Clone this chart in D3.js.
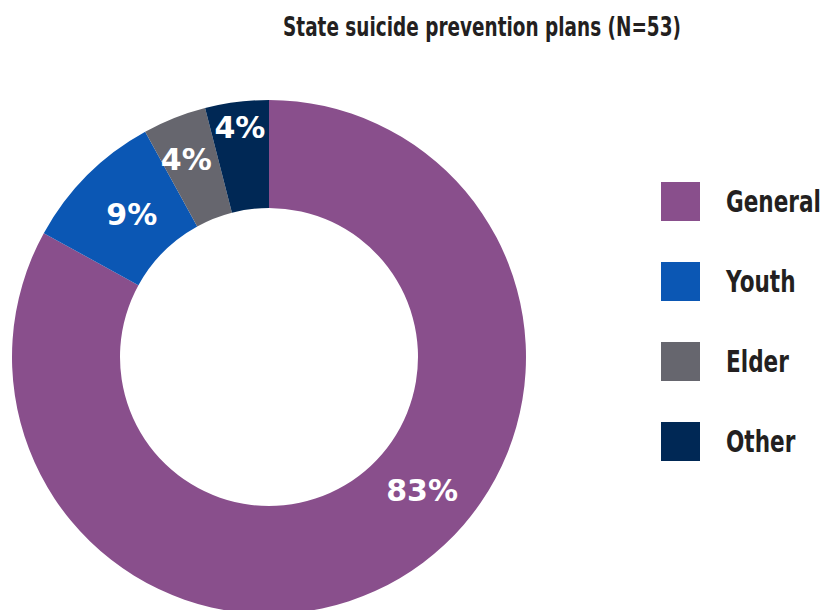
<!DOCTYPE html>
<html>
<head>
<meta charset="utf-8">
<script src="https://cdn.jsdelivr.net/npm/d3@7"></script>
<style>
  html, body { margin: 0; padding: 0; background: #fff; }
  svg { display: block; }
</style>
</head>
<body>
<div id="chart"></div>
<script>
// Chart data
const categories = ['General', 'Youth', 'Elder', 'Other'];
const percents = [83, 9, 4, 4];
const colors = ['#894f8c', '#0b57b4', '#66666e', '#002855'];
const title = 'State suicide prevention plans (N=53)';

const width = 822;
const height = 610;
const cx = 269, cy = 357;
const outerR = 257, innerR = 149;

const font = '"DejaVu Sans", sans-serif';

const svg = d3.select('#chart')
  .append('svg')
  .attr('width', width)
  .attr('height', height);

// Title (squeezed horizontally to mimic a condensed face)
svg.append('text')
  .attr('transform', 'translate(482,36) scale(0.71,1)')
  .attr('text-anchor', 'middle')
  .attr('font-family', font)
  .attr('font-weight', 'bold')
  .attr('font-size', 26)
  .attr('fill', '#231f20')
  .text(title);

const data = categories.map((c, i) => ({ name: c, value: percents[i], color: colors[i] }));

const pie = d3.pie()
  .value(d => d.value)
  .sort(null);

const arc = d3.arc()
  .innerRadius(innerR)
  .outerRadius(outerR);

const g = svg.append('g')
  .attr('transform', `translate(${cx},${cy})`);

const arcs = pie(data);

g.selectAll('path')
  .data(arcs)
  .join('path')
    .attr('d', arc)
    .attr('fill', d => d.data.color);

// label placement tweaks (angle shift in radians, radius)
const labelTweak = {
  General: { da: -0.32, r: 203 },
  Youth: { da: 0.02, r: 198 },
  Elder: { da: -0.02, r: 214 },
  Other: { da: 0, r: 232 }
};

g.selectAll('text.slice-label')
  .data(arcs)
  .join('text')
    .attr('class', 'slice-label')
    .attr('transform', d => {
      const t = labelTweak[d.data.name];
      const a = (d.startAngle + d.endAngle) / 2 + t.da;
      return `translate(${t.r * Math.sin(a)},${-t.r * Math.cos(a)})`;
    })
    .attr('text-anchor', 'middle')
    .attr('dy', '0.36em')
    .attr('font-family', font)
    .attr('font-weight', 'bold')
    .attr('font-size', 30)
    .attr('fill', '#ffffff')
    .text(d => `${d.data.value}%`);

// Legend
const legendY = d3.scaleBand()
  .domain(categories)
  .range([182, 502])
  .paddingInner(0);

const legend = svg.append('g')
  .selectAll('g')
  .data(data)
  .join('g')
    .attr('transform', d => `translate(661,${legendY(d.name)})`);

legend.append('rect')
  .attr('width', 39)
  .attr('height', 39)
  .attr('fill', d => d.color);

legend.append('text')
  .attr('transform', 'translate(65,30) scale(0.72,1)')
  .attr('font-family', font)
  .attr('font-weight', 'bold')
  .attr('font-size', 30)
  .attr('fill', '#231f20')
  .text(d => d.name);
</script>
</body>
</html>
